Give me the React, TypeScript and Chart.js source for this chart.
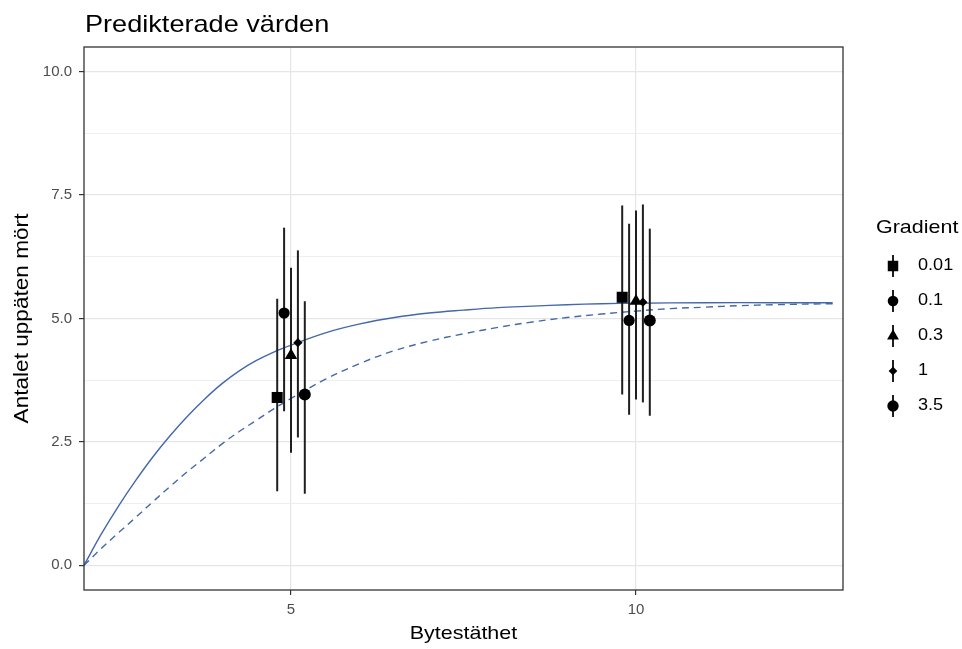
import React, { useEffect, useRef } from 'react';
import { Chart, registerables } from 'chart.js';
import { drawPoint } from 'chart.js/helpers';

Chart.register(...registerables);

// ---------- text ----------
const chartTitle = 'Predikterade värden';
const xAxisTitle = 'Bytestäthet';
const yAxisTitle = 'Antalet uppäten mört';
const legendTitle = 'Gradient';

// ---------- axes ----------
const xTicks = [5, 10];
const yMajorTicks = [0, 2.5, 5, 7.5, 10];
const yMinorTicks = [1.25, 3.75, 6.25, 8.75];

// ---------- fitted curves ----------
const solidX = [2.0, 2.25, 2.5, 2.75, 3.0, 3.25, 3.5, 3.75, 4.0, 4.25, 4.5, 4.75, 5.0, 5.5, 6.0, 6.5, 7.0, 7.5, 8.0, 8.5, 9.0, 9.5, 10.0, 11.0, 12.0, 12.85];
const solidY = [0, 0.63, 1.2, 1.72, 2.2, 2.63, 3.02, 3.37, 3.68, 3.94, 4.15, 4.32, 4.46, 4.71, 4.89, 5.02, 5.11, 5.17, 5.22, 5.25, 5.28, 5.3, 5.31, 5.32, 5.32, 5.32];
const dashedX = [2.0, 2.25, 2.5, 2.75, 3.0, 3.25, 3.5, 3.75, 4.0, 4.25, 4.5, 4.75, 5.0, 5.5, 6.0, 6.5, 7.0, 7.5, 8.0, 8.5, 9.0, 9.5, 10.0, 10.5, 11.0, 11.5, 12.0, 12.85];
const dashedY = [0, 0.34, 0.66, 0.97, 1.29, 1.6, 1.9, 2.18, 2.46, 2.71, 2.94, 3.17, 3.38, 3.77, 4.09, 4.35, 4.54, 4.69, 4.82, 4.93, 5.02, 5.09, 5.15, 5.2, 5.23, 5.26, 5.28, 5.3];

// ---------- predicted points per gradient ----------
const gradients = ['0.01', '0.1', '0.3', '1', '3.5'];
const xG001 = [4.8, 9.8];
const xG01 = [4.9, 9.9];
const xG03 = [5.0, 10.0];
const xG1 = [5.1, 10.1];
const xG35 = [5.2, 10.2];
const yG001 = [3.4, 5.43];
const yG01 = [5.11, 4.96];
const yG03 = [4.25, 5.35];
const yG1 = [4.51, 5.33];
const yG35 = [3.46, 4.96];
const loG001 = [1.5, 3.46];
const loG01 = [3.12, 3.05];
const loG03 = [2.28, 3.36];
const loG1 = [2.59, 3.3];
const loG35 = [1.45, 3.03];
const hiG001 = [5.4, 7.29];
const hiG01 = [6.84, 6.92];
const hiG03 = [6.03, 7.19];
const hiG1 = [6.38, 7.31];
const hiG35 = [5.35, 6.82];

const groupX = [xG001, xG01, xG03, xG1, xG35];
const groupY = [yG001, yG01, yG03, yG1, yG35];
const groupLo = [loG001, loG01, loG03, loG1, loG35];
const groupHi = [hiG001, hiG01, hiG03, hiG1, hiG35];

const pointStyles = ['rect', 'circle', 'triangle', 'rectRot', 'circle'];
const pointRadii = [7.8, 5.6, 7.2, 4.6, 6];

const FONT = '"Liberation Sans", Arial, sans-serif';
const SX = 1.13;
const CURVE_COLOR = '#4468a8';
const INK = '#1f1f1f';

function drawText(ctx: CanvasRenderingContext2D, text: string, x: number, y: number, size: number, align: CanvasTextAlign, color: string, baseline: CanvasTextBaseline = 'middle', rot = 0) {
  ctx.save();
  ctx.translate(x, y);
  if (rot) ctx.rotate(rot);
  ctx.scale(SX, 1);
  ctx.font = `${size}px ${FONT}`;
  ctx.fillStyle = color;
  ctx.textAlign = align;
  ctx.textBaseline = baseline;
  ctx.fillText(text, 0, 0);
  ctx.restore();
}

const errorBarPlugin = {
  id: 'errorBars',
  beforeDatasetDraw(chart: any, args: any) {
    const g = args.index - 2;
    if (g < 0) return;
    const { ctx, scales } = chart;
    ctx.save();
    ctx.strokeStyle = INK;
    ctx.lineWidth = 2;
    groupX[g].forEach((xv, i) => {
      const px = scales.x.getPixelForValue(xv);
      ctx.beginPath();
      ctx.moveTo(px, scales.y.getPixelForValue(groupLo[g][i]));
      ctx.lineTo(px, scales.y.getPixelForValue(groupHi[g][i]));
      ctx.stroke();
    });
    ctx.restore();
  },
};

const decorPlugin = {
  id: 'decor',
  afterDraw(chart: any) {
    const { ctx, chartArea: a } = chart;
    ctx.save();
    ctx.strokeStyle = '#333333';
    ctx.lineWidth = 1.3;
    ctx.strokeRect(a.left, a.top, a.right - a.left, a.bottom - a.top);
    ctx.restore();

    drawText(ctx, chartTitle, a.left + 1, 32, 24, 'left', '#000', 'alphabetic');
    drawText(ctx, xAxisTitle, (a.left + a.right) / 2, 634, 19, 'center', '#000');
    drawText(ctx, yAxisTitle, 22, (a.top + a.bottom) / 2, 20, 'center', '#000', 'middle', -Math.PI / 2);

    const lx = 876;
    drawText(ctx, legendTitle, lx, 228, 19, 'left', '#000');
    const symX = 893;
    gradients.forEach((label, i) => {
      const cy = 266 + i * 35;
      ctx.save();
      ctx.strokeStyle = INK;
      ctx.lineWidth = 2;
      ctx.beginPath();
      ctx.moveTo(symX, cy - 11);
      ctx.lineTo(symX, cy + 11);
      ctx.stroke();
      ctx.fillStyle = '#000';
      ctx.strokeStyle = '#000';
      drawPoint(ctx, { pointStyle: pointStyles[i], radius: pointRadii[i] * 0.95, rotation: 0, borderWidth: 0 } as any, symX, cy);
      ctx.restore();
      drawText(ctx, label, 918, cy, 16, 'left', '#000');
    });
  },
};

export default function App() {
  const ref = useRef<HTMLCanvasElement | null>(null);

  useEffect(() => {
    if (!ref.current) return;
    const curveSets = [
      {
        label: 'solid',
        data: solidX.map((x, i) => ({ x, y: solidY[i] })),
        showLine: true,
        borderColor: CURVE_COLOR,
        borderWidth: 1.4,
        pointRadius: 0,
        tension: 0.4,
        order: 10,
      },
      {
        label: 'dashed',
        data: dashedX.map((x, i) => ({ x, y: dashedY[i] })),
        showLine: true,
        borderColor: CURVE_COLOR,
        borderWidth: 1.4,
        borderDash: [7, 5],
        pointRadius: 0,
        tension: 0.4,
        order: 9,
      },
    ];
    const pointSets = gradients.map((g, k) => ({
      label: g,
      data: groupX[k].map((x, i) => ({ x, y: groupY[k][i] })),
      showLine: false,
      pointStyle: pointStyles[k],
      pointRadius: pointRadii[k],
      pointBackgroundColor: '#000',
      pointBorderColor: '#000',
      pointBorderWidth: 0,
      order: 5 - k,
    }));

    const isMajor = (v: number) => yMajorTicks.includes(v);

    const chart = new Chart(ref.current, {
      type: 'scatter',
      data: { datasets: [...curveSets, ...pointSets] as any },
      plugins: [errorBarPlugin, decorPlugin],
      options: {
        animation: false,
        responsive: false,
        devicePixelRatio: 1,
        layout: { padding: { top: 47, right: 119, left: 0, bottom: 0 } },
        plugins: { legend: { display: false }, title: { display: false }, tooltip: { enabled: false } },
        scales: {
          x: {
            type: 'linear',
            min: 2,
            max: 13,
            afterBuildTicks: (s: any) => { s.ticks = xTicks.map((v) => ({ value: v })); },
            afterFit: (s: any) => { s.height = 59; },
            ticks: {
              autoSkip: false,
              maxRotation: 0,
              padding: 6,
              color: '#4d4d4d',
              font: { family: FONT, size: 15 },
              callback: (v: any) => String(v),
            },
            grid: {
              color: '#e6e6e6',
              lineWidth: 1.2,
              tickColor: '#333333',
              tickLength: 5,
              tickWidth: 1.2,
            },
            border: { display: false },
          },
          y: {
            type: 'linear',
            min: -0.5,
            max: 10.5,
            afterBuildTicks: (s: any) => {
              s.ticks = [...yMajorTicks, ...yMinorTicks].sort((a, b) => a - b).map((v) => ({ value: v }));
            },
            afterFit: (s: any) => { s.width = 84; },
            ticks: {
              autoSkip: false,
              padding: 7,
              color: '#4d4d4d',
              font: { family: FONT, size: 15 },
              callback: (v: any) => (isMajor(Number(v)) ? Number(v).toFixed(1) : ''),
            },
            grid: {
              color: (c: any) => (c.tick && isMajor(c.tick.value) ? '#e6e6e6' : '#eeeeee'),
              lineWidth: (c: any) => (c.tick && isMajor(c.tick.value) ? 1.2 : 1),
              tickColor: (c: any) => (c.tick && isMajor(c.tick.value) ? '#333333' : 'rgba(0,0,0,0)'),
              tickLength: 5,
              tickWidth: 1.2,
            },
            border: { display: false },
          },
        },
      } as any,
    });
    return () => chart.destroy();
  }, []);

  return (
    <div style={{ position: 'absolute', left: 0, top: 0, width: 962, height: 649, background: '#fff' }}>
      <canvas ref={ref} width={962} height={649} style={{ display: 'block' }} />
    </div>
  );
}
